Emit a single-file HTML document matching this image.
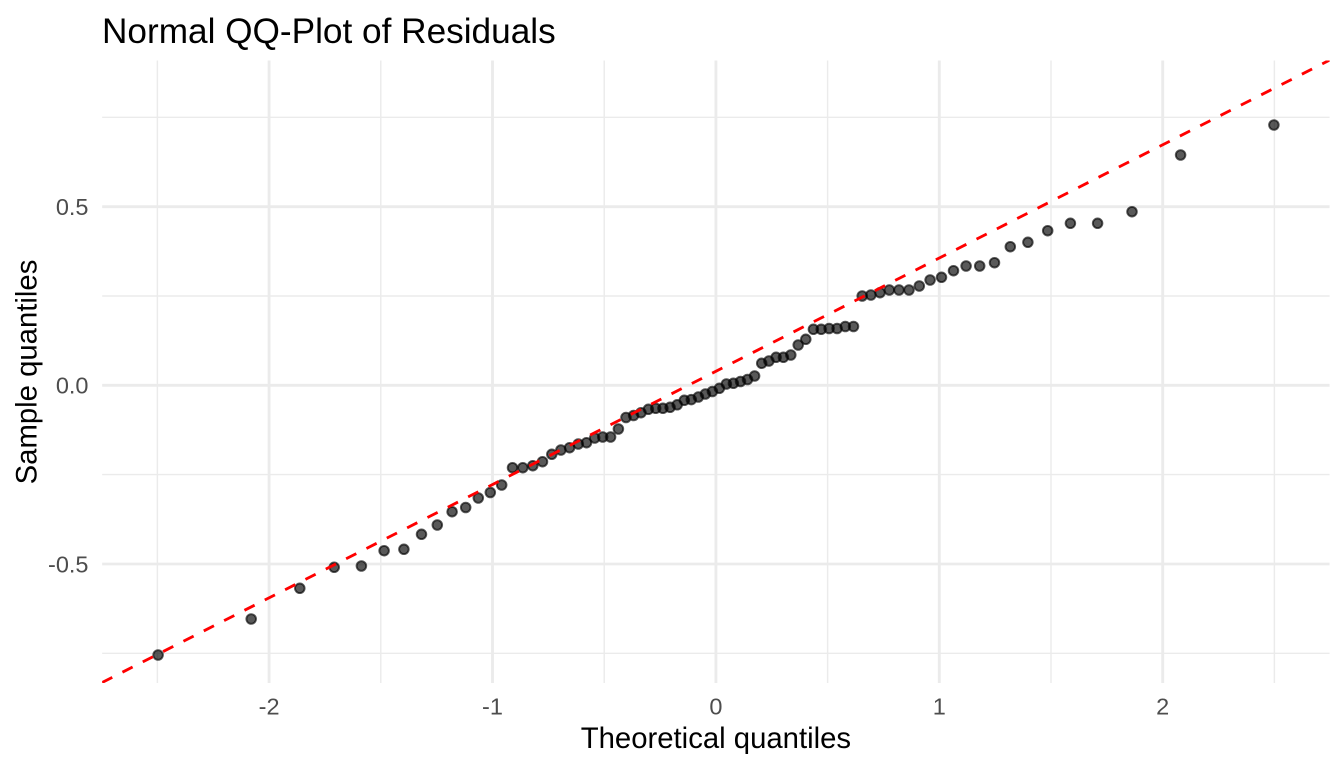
<!DOCTYPE html>
<html>
<head>
<meta charset="utf-8">
<style>
html,body{margin:0;padding:0;background:#fff;}
svg{display:block;}
text{font-family:"Liberation Sans",Arial,sans-serif;}
</style>
</head>
<body>
<svg width="1344" height="768" viewBox="0 0 1344 768" xmlns="http://www.w3.org/2000/svg">
<rect x="0" y="0" width="1344" height="768" fill="#ffffff"/>
<defs>
<clipPath id="panel"><rect x="102.1" y="60.5" width="1227.6" height="622.5"/></clipPath>
<marker id="dot" markerUnits="userSpaceOnUse" markerWidth="16" markerHeight="16" refX="8" refY="8" overflow="visible">
<circle cx="8" cy="8" r="4.8" fill="rgba(0,0,0,0.65)" stroke="rgba(0,0,0,0.65)" stroke-width="1.9"/>
</marker>
</defs>
<g clip-path="url(#panel)">
<path fill="none" stroke="#EBEBEB" stroke-width="1.42" d="M102.1 117.3H1329.7M102.1 296H1329.7M102.1 474.6H1329.7M102.1 653.3H1329.7M157.4 60.5V683M380.8 60.5V683M604.2 60.5V683M827.6 60.5V683M1051 60.5V683M1274.4 60.5V683"/>
<path fill="none" stroke="#EBEBEB" stroke-width="2.84" d="M102.1 206.7H1329.7M102.1 385.3H1329.7M102.1 564H1329.7M269.1 60.5V683M492.5 60.5V683M715.9 60.5V683M939.3 60.5V683M1162.7 60.5V683"/>
<polyline fill="none" stroke="none" marker-start="url(#dot)" marker-mid="url(#dot)" marker-end="url(#dot)" points="158.1,655 251.2,619 299.8,588.3 334.2,567.3 361.4,566 384.1,550.7 403.9,549.3 421.5,534.3 437.3,525 452.1,511.7 465.7,507.5 478.3,498 490.3,492.5 501.7,485 512.5,467.7 522.8,467.7 532.8,465.7 542.5,461.7 551.8,454.3 560.9,450 569.6,447.7 578.3,444 586.5,442.7 594.7,438 602.7,437 610.6,437 618.4,429 626,417.5 633.6,415.5 641,412.7 648.4,409.3 655.7,408.3 662.9,408.3 670.1,407.3 677.2,404.8 684.3,400.3 691.3,399.6 698.4,397 705.4,394 712.4,391.5 719.4,388.3 726.4,384 733.4,383.3 740.5,381.5 747.5,379.5 754.6,376 761.7,363.3 768.9,361 776.1,357.3 783.4,357.3 790.8,355 798.2,345 805.8,339.3 813.4,329.3 821.2,329.3 829.1,328.5 837.1,328.5 845.3,326.5 853.5,326.5 862.2,296 870.9,295 880,292.7 889.3,290 899,290 909,290 919.3,286 930.1,280 941.5,277.3 953.5,270.7 966.1,266 979.7,266 994.5,262.7 1010.3,246.7 1027.9,242.3 1047.7,230.7 1070.4,223.3 1097.6,223.3 1132,211.7 1180.6,155 1273.9,125"/>
<line x1="102.1" y1="682.5" x2="1329.7" y2="60.1" stroke="#FF0000" stroke-width="2.84" stroke-dasharray="11.4 11.4" fill="none"/>
</g>
<text x="102" y="43" font-size="35.2" fill="#000000">Normal QQ-Plot of Residuals</text>
<g font-size="23.5" fill="#4D4D4D" text-anchor="end">
<text x="88.5" y="215.1">0.5</text>
<text x="88.5" y="393.7">0.0</text>
<text x="88.5" y="572.4">-0.5</text>
</g>
<g font-size="23.5" fill="#4D4D4D" text-anchor="middle">
<text x="269.1" y="714.5">-2</text>
<text x="492.5" y="714.5">-1</text>
<text x="715.9" y="714.5">0</text>
<text x="939.3" y="714.5">1</text>
<text x="1162.7" y="714.5">2</text>
</g>
<text x="715.9" y="748" font-size="29.3" fill="#000000" text-anchor="middle">Theoretical quantiles</text>
<text transform="translate(36.5,372) rotate(-90)" font-size="29.3" fill="#000000" text-anchor="middle">Sample quantiles</text>
</svg>
</body>
</html>
